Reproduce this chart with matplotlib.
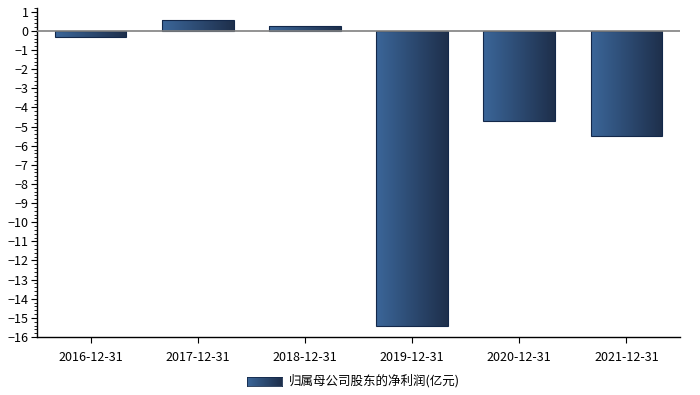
import numpy as np
import matplotlib
matplotlib.use('Agg')
import matplotlib.pyplot as plt
from matplotlib.ticker import MultipleLocator, AutoMinorLocator
from matplotlib.colors import LinearSegmentedColormap

plt.rcParams['font.family'] = ['Noto Sans CJK SC', 'DejaVu Sans']

dates = ['2016-12-31', '2017-12-31', '2018-12-31', '2019-12-31', '2020-12-31', '2021-12-31']
profit = [-0.33, 0.58, 0.26, -15.45, -4.72, -5.5]
series_name = '归属母公司股东的净利润(亿元)'

grad = LinearSegmentedColormap.from_list('g', ['#3b6699', '#1e2f4b'])

fig = plt.figure(figsize=(7, 3.95), dpi=100)
ax = fig.add_axes([37 / 700, 58 / 395, 643 / 700, 329 / 395])

x = np.arange(len(dates))
bars = ax.bar(x, profit, width=0.67, color='none', edgecolor='#13284a', linewidth=0.8, zorder=3)

# gradient fill, left light -> right dark
g = np.linspace(0, 1, 256).reshape(1, -1)
for b in bars:
    x0, y0 = b.get_x(), b.get_y()
    w, h = b.get_width(), b.get_height()
    im = ax.imshow(g, cmap=grad, aspect='auto', extent=[x0, x0 + w, y0, y0 + h],
                   zorder=2, interpolation='bilinear')
    im.set_clip_path(b)

ax.axhline(0, color='#808080', linewidth=1.2, zorder=4)

ax.set_xlim(-0.5, len(dates) - 0.5)
ax.set_ylim(-16, 1.2)
ax.set_xticks(x)
ax.set_xticklabels(dates, fontsize=9)
ax.yaxis.set_major_locator(MultipleLocator(1))
ax.yaxis.set_minor_locator(AutoMinorLocator(5))
ax.tick_params(axis='y', which='major', length=4, labelsize=9, pad=2)
ax.tick_params(axis='y', which='minor', length=2)
ax.tick_params(axis='x', length=4, pad=6)

for s in ['top', 'right']:
    ax.spines[s].set_visible(False)
ax.spines['left'].set_linewidth(1)
ax.spines['bottom'].set_linewidth(1)

# legend with gradient swatch
lx0, ly0, lw, lh = 247 / 700, (395 - 386) / 395, 35 / 700, 9 / 395
lax = fig.add_axes([lx0, ly0, lw, lh])
lax.imshow(g, cmap=grad, aspect='auto')
lax.set_xticks([])
lax.set_yticks([])
for s in lax.spines.values():
    s.set_color('#13284a')
    s.set_linewidth(0.6)
fig.text(289 / 700, (395 - 381) / 395, series_name, fontsize=9, va='center', ha='left')

fig.savefig('out.png', dpi=100)
